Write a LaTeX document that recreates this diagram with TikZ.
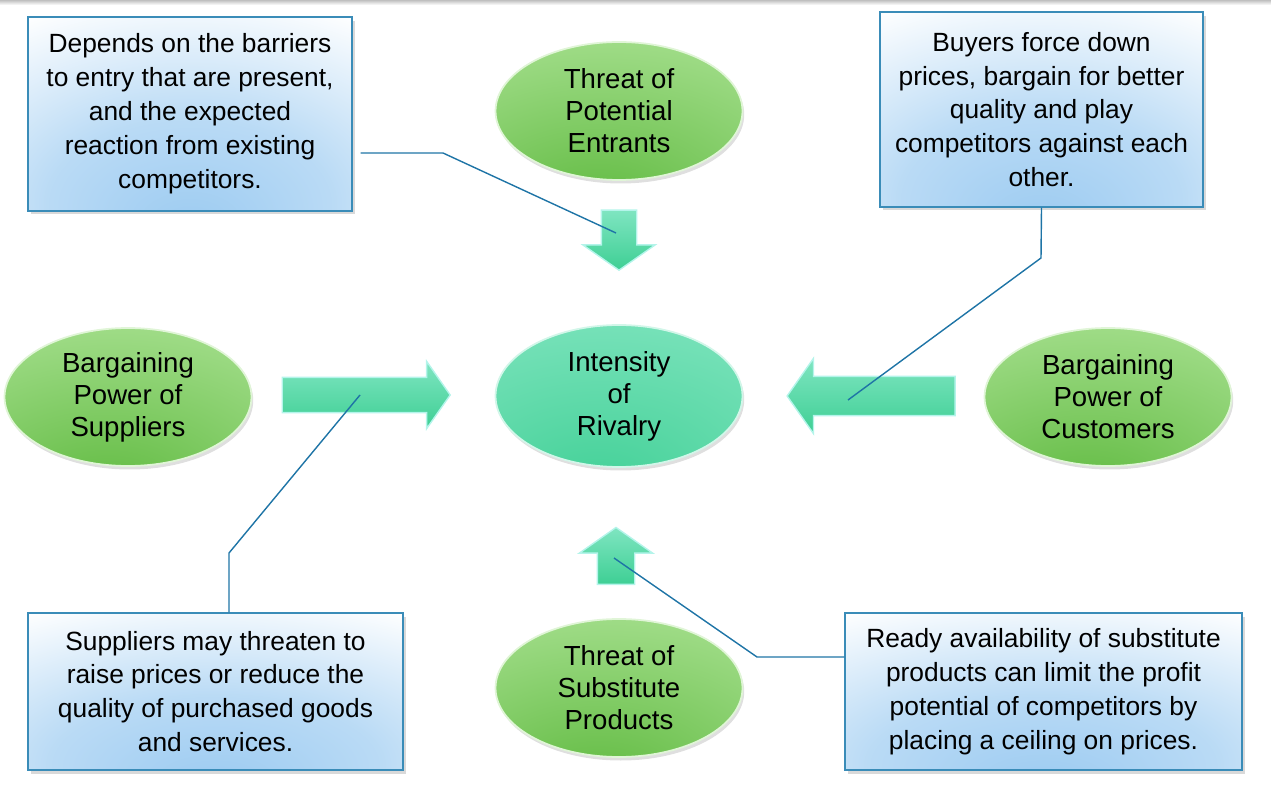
\documentclass[tikz,border=0pt]{standalone}
\usepackage{fontspec}
\setmainfont{Liberation Sans}
\usetikzlibrary{shapes.geometric,shapes.arrows,shadows}
\definecolor{boxblue}{HTML}{9CCBF1}
\definecolor{boxedge}{HTML}{3A8CB8}
\definecolor{leaflight}{HTML}{B2E69C}
\definecolor{leafdark}{HTML}{5CB83C}
\definecolor{tealight}{HTML}{8EE9C8}
\definecolor{tealdark}{HTML}{41D096}
\definecolor{arrowrim}{HTML}{B4F4EA}
\definecolor{arrowlight}{HTML}{7FE5C1}
\definecolor{arrowdark}{HTML}{3ECF94}
\definecolor{linkblue}{HTML}{1E74A6}
\pgfdeclareradialshading{boxshade}{\pgfpoint{0bp}{-30bp}}{color(0bp)=(boxblue);color(22bp)=(boxblue!70!white);color(48bp)=(white);color(100bp)=(white)}
\pgfdeclareradialshading{leafshade}{\pgfpoint{-5bp}{-40bp}}{color(0bp)=(leafdark);color(60bp)=(leaflight);color(100bp)=(leaflight)}
\pgfdeclareradialshading{tealshade}{\pgfpoint{-5bp}{-35bp}}{color(0bp)=(tealdark);color(65bp)=(tealight);color(100bp)=(tealight)}

\begin{document}
\begin{tikzpicture}[x=0.02cm,y=-0.02cm,
  note/.style={draw=boxedge,line width=0.8pt,shading=boxshade,align=center,inner sep=0pt,
    font=\fontsize{15}{19.3}\selectfont,drop shadow={opacity=0.3,shadow xshift=1.5pt,shadow yshift=-2pt}},
  force/.style={ellipse,draw=white!60!leaflight,line width=1pt,shading=leafshade,align=center,inner sep=0pt,
    minimum width=4.94cm,minimum height=2.76cm,font=\fontsize{15.7}{18.2}\selectfont,
    drop shadow={opacity=0.25,shadow xshift=1pt,shadow yshift=-2pt}},
  rival/.style={force,shading=tealshade,draw=white!60!tealight,minimum height=2.84cm},
  push/.style={single arrow,draw=arrowrim,line width=0.8pt,top color=arrowlight,bottom color=arrowdark,
    single arrow head indent=0pt,single arrow tip angle=110},
  link/.style={draw=linkblue,line width=0.8pt}]
  \useasboundingbox (0,0) rectangle (1271,793);
  \shade[top color=black!25,bottom color=white] (0,0) rectangle (1271,5);

  \node[note,minimum width=6.48cm,minimum height=3.88cm] (tlbox) at (190,114)
    {Depends on the barriers\\to entry that are present,\\and the expected\\reaction from existing\\competitors.};
  \node[note,minimum width=6.46cm,minimum height=3.9cm] (trbox) at (1041.5,109.5)
    {Buyers force down\\prices, bargain for better\\quality and play\\competitors against each\\other.};
  \node[note,minimum width=7.5cm,minimum height=3.14cm] (blbox) at (215.5,691.5)
    {Suppliers may threaten to\\raise prices or reduce the\\quality of purchased goods\\and services.};
  \node[note,minimum width=7.94cm,minimum height=3.14cm] (brbox) at (1043.5,691.5)
    {Ready availability of substitute\\products can limit the profit\\potential of competitors by\\placing a ceiling on prices.};

  \node[force] (entrants) at (619,111) {Threat of\\Potential\\Entrants};
  \node[rival] (rivalry) at (619,396) {Intensity\\of\\Rivalry};
  \node[force] (suppliers) at (128,397) {Bargaining\\Power of\\Suppliers};
  \node[force] (customers) at (1108,397) {Bargaining\\Power of\\Customers};
  \node[force] (substitutes) at (619,688) {Threat of\\Substitute\\Products};

  \node[push,inner sep=0.34cm,minimum height=3.36cm,single arrow head extend=0.32cm] (suparrow) at (360,395) {};
  \node[push,inner sep=0.38cm,minimum height=3.36cm,single arrow head extend=0.36cm,
    shape border rotate=180] (cusarrow) at (878,396) {};
  \node[push,inner sep=0.34cm,minimum height=1.2cm,single arrow head extend=0.37cm,
    shape border rotate=270] (entarrow) at (619,234) {};
  \node[push,inner sep=0.36cm,minimum height=1.14cm,single arrow head extend=0.36cm,
    shape border rotate=90] (subarrow) at (616,562.5) {};

  \coordinate (tlbend) at (443,153);
  \coordinate (tltip) at (616,233);
  \coordinate (trbend) at (1041,258);
  \coordinate (trtip) at (848,400);
  \coordinate (blbend) at (229,553);
  \coordinate (bltip) at (360,395);
  \coordinate (brbend) at (757,657);
  \coordinate (brtip) at (614,558);
  \draw[link] ([xshift=0.16cm]tlbox.east |- tlbend) -- (tlbend) -- (tltip);
  \draw[link] (trbox.south) -- (trbend) -- (trtip);
  \draw[link] (blbend |- blbox.north) -- (blbend) -- (bltip);
  \draw[link] (brbox.west |- brbend) -- (brbend) -- (brtip);
\end{tikzpicture}
\end{document}
